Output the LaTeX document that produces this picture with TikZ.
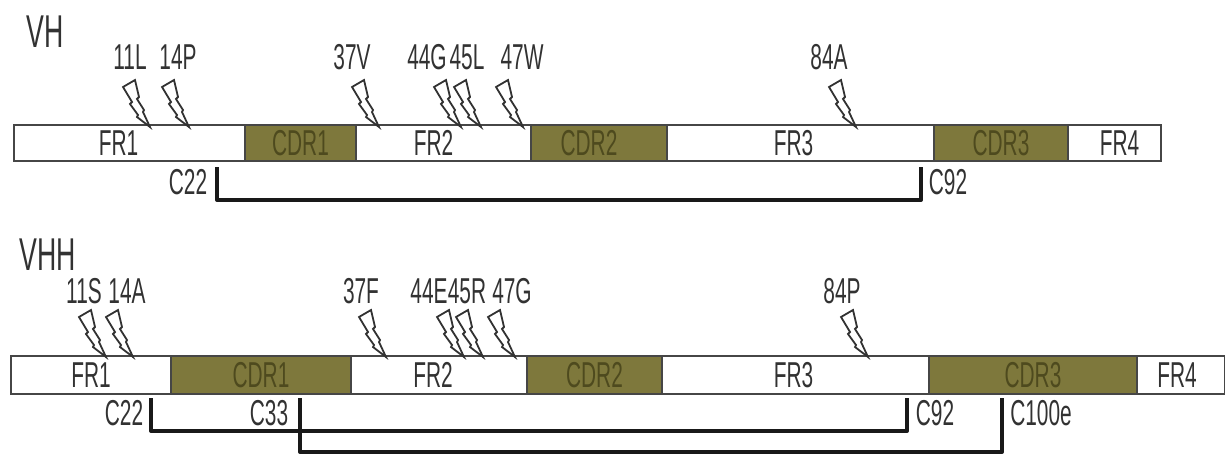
\documentclass[tikz,border=0pt]{standalone}
\usepackage{xcolor}
\usepackage{fontspec}
\setmainfont[FakeStretch=0.58]{Liberation Sans}
\usetikzlibrary{positioning}
\definecolor{cdrolive}{RGB}{126,120,60}
\definecolor{cdrtext}{RGB}{78,74,30}
\definecolor{labelgray}{RGB}{50,50,50}
\definecolor{bordercolor}{RGB}{70,70,70}
\tikzset{
  base/.style={draw=bordercolor, line width=0.8pt, align=center, inner sep=0pt,
               outer sep=0pt, font=\fontsize{18}{20}\selectfont},
  framework/.style = {base, fill=white, text=labelgray},
  cdr/.style       = {base, fill=cdrolive, text=cdrtext},
  vhbar/.style     = {minimum height=18pt},
  vhhbar/.style    = {minimum height=19pt},
  mark label/.style = {font=\fontsize{18}{20}\selectfont, text=labelgray, inner sep=0pt},
  title label/.style = {font=\fontsize{23}{25}\selectfont, text=labelgray, inner sep=0pt},
  bond/.style      = {line width=2pt, line join=round, color=black!90},
  bolt/.pic = {
    \draw[line width=0.9pt, fill=white, draw=labelgray] (0,0) -- (-7,-15) -- (-6,-17) -- (-13,-28) -- (-11,-30)
      -- (-15,-47) -- (-27,-40) -- (-18,-25) -- (-20,-23) -- (-12,-12) -- (-13,-10) -- cycle;
  },
}
\begin{document}
\begin{tikzpicture}[x=0.5pt, y=-0.5pt]
  \useasboundingbox (0,0) rectangle (1225,455);

  % VH domain
  \node[title label] (vhtitle) at (45,32) {VH};
  \node[framework, vhbar, anchor=west, minimum width=115.5pt] (hfr1) at (14,143) {FR1\hspace*{11pt}};
  \node[cdr, vhbar, right=0pt of hfr1, minimum width=55.5pt]  (hcdr1) {CDR1};
  \node[framework, vhbar, right=0pt of hcdr1, minimum width=87.5pt] (hfr2) {FR2\hspace*{10pt}};
  \node[cdr, vhbar, right=0pt of hfr2, minimum width=68pt]    (hcdr2) {CDR2\hspace*{10pt}};
  \node[framework, vhbar, right=0pt of hcdr2, minimum width=133.5pt] (hfr3) {FR3\hspace*{7pt}};
  \node[cdr, vhbar, right=0pt of hfr3, minimum width=67pt]    (hcdr3) {CDR3};
  \node[framework, vhbar, right=0pt of hcdr3, minimum width=46.5pt] (hfr4) {\hspace*{5pt}FR4};

  \foreach \m/\lx/\tx in {11L/130/150, 14P/178/189, 37V/352/379, 44G/427/461,
                          45L/467/481, 47W/522/523, 84A/829/856} {
    \node[mark label] (h\m) at (\lx,57) {\m};
    \pic at (\tx,127) {bolt};
  }

  \node[mark label] (hc22) at (188,182) {C22};
  \node[mark label] (hc92) at (948,182) {C92};
  \coordinate (hs1) at (217,167);
  \coordinate (hs2) at (921,167);
  \draw[bond] (hs1) -- ++(0,33) -| (hs2);

  % VHH domain
  \node[title label] (vhhtitle) at (48,255) {VHH};
  \node[framework, vhhbar, anchor=west, minimum width=80pt] (cfr1) at (11,375) {FR1};
  \node[cdr, vhhbar, right=0pt of cfr1, minimum width=90pt]   (ccdr1) {CDR1};
  \node[framework, vhhbar, right=0pt of ccdr1, minimum width=88pt] (cfr2) {FR2\hspace*{6pt}};
  \node[cdr, vhhbar, right=0pt of cfr2, minimum width=67.5pt] (ccdr2) {CDR2};
  \node[framework, vhhbar, right=0pt of ccdr2, minimum width=133.5pt] (cfr3) {FR3\hspace*{2pt}};
  \node[cdr, vhhbar, right=0pt of cfr3, minimum width=104pt]  (ccdr3) {CDR3};
  \node[framework, vhhbar, right=0pt of ccdr3, minimum width=44pt] (cfr4) {FR4\hspace*{4pt}};

  \foreach \m/\lx/\tx in {11S/84/106, 14A/127/133, 37F/361/386, 44E/429/464,
                          45R/467/483, 47G/512/515, 84P/842/868} {
    \node[mark label] (c\m) at (\lx,291) {\m};
    \pic at (\tx,357) {bolt};
  }

  \node[mark label] (cc22) at (124,413) {C22};
  \node[mark label] (cc33) at (269,413) {C33};
  \node[mark label] (cc92) at (935,413) {C92};
  \node[mark label] (cc100) at (1041,413) {C100e};
  \coordinate (cs1) at (151,398);
  \coordinate (cs2) at (907,398);
  \coordinate (cs3) at (300,398);
  \coordinate (cs4) at (1002,398);
  \draw[bond] (cs1) -- ++(0,33) -| (cs2);
  \draw[bond] (cs3) -- ++(0,54) -| (cs4);
\end{tikzpicture}
\end{document}
